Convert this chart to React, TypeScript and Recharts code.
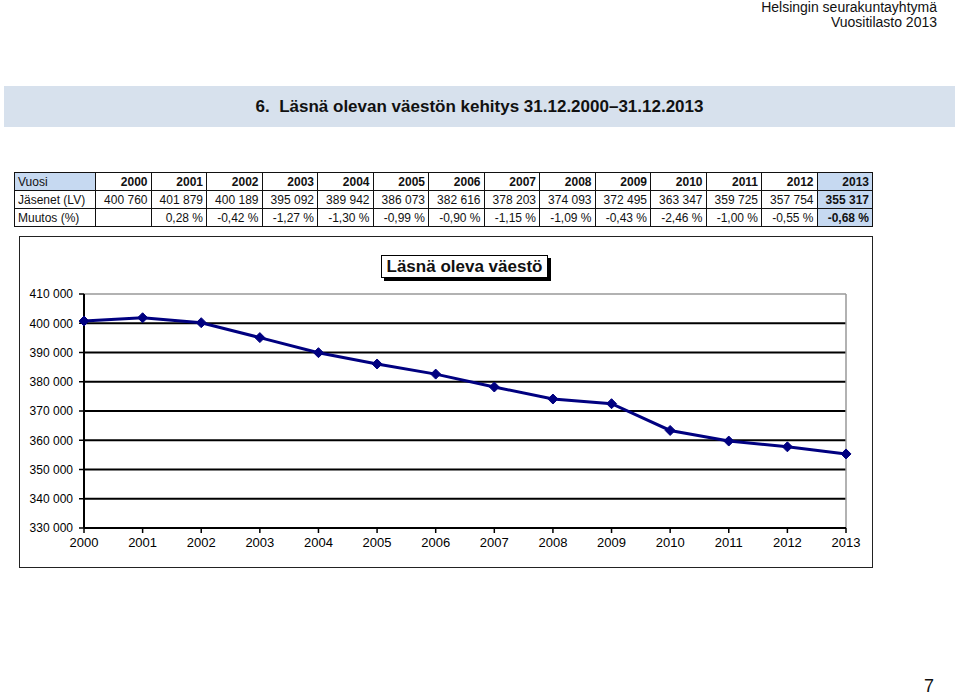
import React from "react";
import { CartesianGrid, Line, LineChart, ReferenceLine, XAxis, YAxis } from "recharts";

const years = ["2000", "2001", "2002", "2003", "2004", "2005", "2006", "2007", "2008", "2009", "2010", "2011", "2012", "2013"];
const members = [400760, 401879, 400189, 395092, 389942, 386073, 382616, 378203, 374093, 372495, 363347, 359725, 357754, 355317];
const changes = ["", "0,28 %", "-0,42 %", "-1,27 %", "-1,30 %", "-0,99 %", "-0,90 %", "-1,15 %", "-1,09 %", "-0,43 %", "-2,46 %", "-1,00 %", "-0,55 %", "-0,68 %"];
const yTicks = [330000, 340000, 350000, 360000, 370000, 380000, 390000, 400000, 410000];
const gridValues = [340000, 350000, 360000, 370000, 380000, 390000, 400000];

const FONT = "Arial, 'Liberation Sans', sans-serif";
const NAVY = "#000080";
const HILITE = "#c6d9f1";

const fmt = (n: number) => String(n).replace(/\B(?=(\d{3})+(?!\d))/g, " ");

const data = years.map((y, i) => ({ year: y, members: members[i] }));

function Diamond(props: any) {
  const { cx, cy, index } = props;
  if (cx == null || cy == null) return null;
  const r = 5;
  return (
    <polygon
      key={`d-${index}`}
      points={`${cx},${cy - r} ${cx + r},${cy} ${cx},${cy + r} ${cx - r},${cy}`}
      fill={NAVY}
      stroke={NAVY}
    />
  );
}

const cell: React.CSSProperties = {
  border: "1px solid #111",
  padding: "0 3px",
  height: 17,
  textAlign: "right",
  whiteSpace: "nowrap",
};

function DataTable() {
  const last = years.length - 1;
  return (
    <table
      style={{
        position: "absolute",
        left: 14,
        top: 172,
        width: 859,
        borderCollapse: "collapse",
        tableLayout: "fixed",
        fontFamily: FONT,
        fontSize: 12,
        color: "#111",
      }}
    >
      <colgroup>
        <col style={{ width: 81 }} />
        {years.map((y) => (
          <col key={y} />
        ))}
      </colgroup>
      <tbody>
        <tr>
          <td style={{ ...cell, textAlign: "left", background: HILITE }}>Vuosi</td>
          {years.map((y, i) => (
            <td key={y} style={{ ...cell, fontWeight: "bold", background: i === last ? HILITE : undefined }}>
              {y}
            </td>
          ))}
        </tr>
        <tr>
          <td style={{ ...cell, textAlign: "left" }}>Jäsenet (LV)</td>
          {members.map((m, i) => (
            <td
              key={i}
              style={{ ...cell, fontWeight: i === last ? "bold" : undefined, background: i === last ? HILITE : undefined }}
            >
              {fmt(m)}
            </td>
          ))}
        </tr>
        <tr>
          <td style={{ ...cell, textAlign: "left" }}>Muutos (%)</td>
          {changes.map((c, i) => (
            <td
              key={i}
              style={{ ...cell, fontWeight: i === last ? "bold" : undefined, background: i === last ? HILITE : undefined }}
            >
              {c}
            </td>
          ))}
        </tr>
      </tbody>
    </table>
  );
}

export default function App() {
  return (
    <div
      style={{
        position: "absolute",
        left: 0,
        top: 0,
        width: 960,
        height: 696,
        background: "#fff",
        fontFamily: FONT,
        color: "#111",
        overflow: "hidden",
      }}
    >
      {/* page header */}
      <div style={{ position: "absolute", right: 23, top: 0, textAlign: "right", fontSize: 14, lineHeight: "15px" }}>
        <div>Helsingin seurakuntayhtymä</div>
        <div>Vuositilasto 2013</div>
      </div>

      {/* title band */}
      <div
        style={{
          position: "absolute",
          left: 4,
          top: 86,
          width: 951,
          height: 41,
          background: "#d7e1ed",
          textAlign: "center",
          lineHeight: "41px",
          fontSize: 17,
          fontWeight: "bold",
        }}
      >
        6.&nbsp;&nbsp;Läsnä olevan väestön kehitys 31.12.2000–31.12.2013
      </div>

      <DataTable />

      {/* chart box */}
      <div
        style={{
          position: "absolute",
          left: 19,
          top: 236,
          width: 852,
          height: 330,
          border: "1px solid #222",
        }}
      >
        <LineChart width={852} height={330} data={data} margin={{ top: 57, right: 26, bottom: 0, left: 0 }}>
          <CartesianGrid
            vertical={false}
            horizontalValues={gridValues}
            stroke="#000"
            strokeWidth={2}
            strokeOpacity={1}
          />
          <ReferenceLine y={410000} stroke="#999" strokeWidth={1.5} />
          <ReferenceLine x="2013" stroke="#999" strokeWidth={1.5} />
          <XAxis
            dataKey="year"
            interval={0}
            height={39}
            tickSize={5}
            tickMargin={5}
            tick={{ fill: "#000", fontSize: 13 }}
            axisLine={{ stroke: "#000", strokeWidth: 2 }}
            tickLine={{ stroke: "#000", strokeWidth: 1.5 }}
          />
          <YAxis
            type="number"
            domain={[330000, 410000]}
            ticks={yTicks}
            width={64}
            interval={0}
            tickSize={5}
            tickMargin={6}
            tickFormatter={fmt}
            tick={{ fill: "#000", fontSize: 12 }}
            axisLine={{ stroke: "#000", strokeWidth: 2 }}
            tickLine={{ stroke: "#000", strokeWidth: 1.5 }}
          />
          <Line
            type="linear"
            dataKey="members"
            stroke={NAVY}
            strokeWidth={3}
            dot={Diamond}
            activeDot={false}
            isAnimationActive={false}
          />
        </LineChart>

        {/* chart title */}
        <div
          style={{
            position: "absolute",
            left: 361,
            top: 18,
            width: 165,
            height: 21,
            border: "1px solid #000",
            boxShadow: "3px 3px 0 #000",
            background: "#fff",
            textAlign: "center",
            lineHeight: "21px",
            fontSize: 17,
            fontWeight: "bold",
          }}
        >
          Läsnä oleva väestö
        </div>
      </div>

      {/* page number */}
      <div style={{ position: "absolute", left: 924, top: 676, fontSize: 18, lineHeight: "20px" }}>7</div>
    </div>
  );
}
